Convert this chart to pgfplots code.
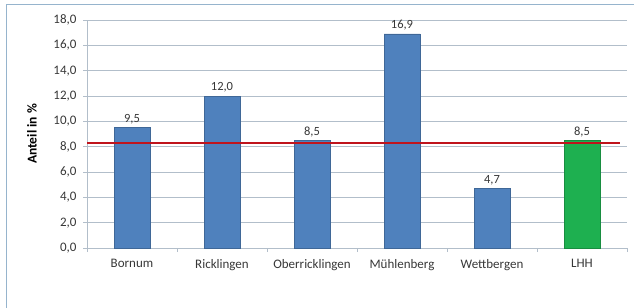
\documentclass[border=0pt]{standalone}
\usepackage{pgfplots}
\pgfplotsset{compat=1.18}
\usepackage{fontspec}
\setmainfont{Carlito}
\definecolor{barblue}{RGB}{79,129,189}
\definecolor{bargreen}{RGB}{30,176,80}
\definecolor{refred}{RGB}{192,20,28}
\definecolor{gridc}{RGB}{178,190,202}
\definecolor{txt}{RGB}{55,55,55}
\definecolor{framec}{RGB}{150,180,205}
\begin{document}
\begin{tikzpicture}[x=1bp,y=1bp]
\path[use as bounding box] (0,0) rectangle (634,307);
\begin{scope}
\clip (0,0) rectangle (634,307);
\draw[framec, line width=1bp] (6,-10) -- (6,302) -- (650,302);
\end{scope}
\begin{axis}[
  at={(87bp,59bp)}, anchor=south west,
  scale only axis, width=540bp, height=228bp,
  xmin=-0.5, xmax=5.5, ymin=0, ymax=18,
  axis x line*=bottom, axis y line*=left,
  axis line style={gridc, line width=0.8bp},
  xtick={0,1,2,3,4,5},
  xticklabels={Bornum,Ricklingen,Oberricklingen,Mühlenberg,Wettbergen,LHH},
  major x tick style={draw=none},
  minor xtick={-0.5,0.5,1.5,2.5,3.5,4.5,5.5},
  minor tick length=4bp,
  minor x tick style={gridc, line width=0.8bp},
  ytick={0,2,...,18},
  ymajorgrids,
  major grid style={gridc, line width=0.8bp},
  major tick length=4bp,
  tick align=outside,
  y tick style={gridc, line width=0.8bp},
  yticklabel style={xshift=-3bp, font=\fontsize{13bp}{15bp}\selectfont, text=txt, /pgf/number format/.cd, use comma, fixed, fixed zerofill, precision=1},
  /pgf/number format/assume math mode=true,
  yticklabel={\pgfmathprintnumber{\tick}},
  xticklabel style={yshift=-4bp, font=\fontsize{13bp}{15bp}\selectfont, text=txt},
  ylabel={Anteil in \%},
  ylabel style={at={(axis description cs:-0.102,0.5)}, anchor=center, font=\bfseries\fontsize{13.5bp}{15bp}\selectfont, text=black},
  ybar, bar width=36bp,
  nodes near coords,
  nodes near coords style={font=\fontsize{12.5bp}{14bp}\selectfont, text=txt,
     /pgf/number format/.cd, use comma, fixed, fixed zerofill, precision=1},
  clip=false,
]
\addplot[fill=barblue, draw=barblue!80!black, bar shift=0pt] coordinates {(0,9.5) (1,12.0) (2,8.5) (3,16.9) (4,4.7)};
\addplot[fill=bargreen, draw=bargreen!80!black, bar shift=0pt] coordinates {(5,8.5)};
\addplot[sharp plot, refred, line width=1.6bp, nodes near coords={}, mark=none, forget plot] coordinates {(-0.5,8.3) (5.42,8.3)};
\end{axis}
\end{tikzpicture}
\end{document}
